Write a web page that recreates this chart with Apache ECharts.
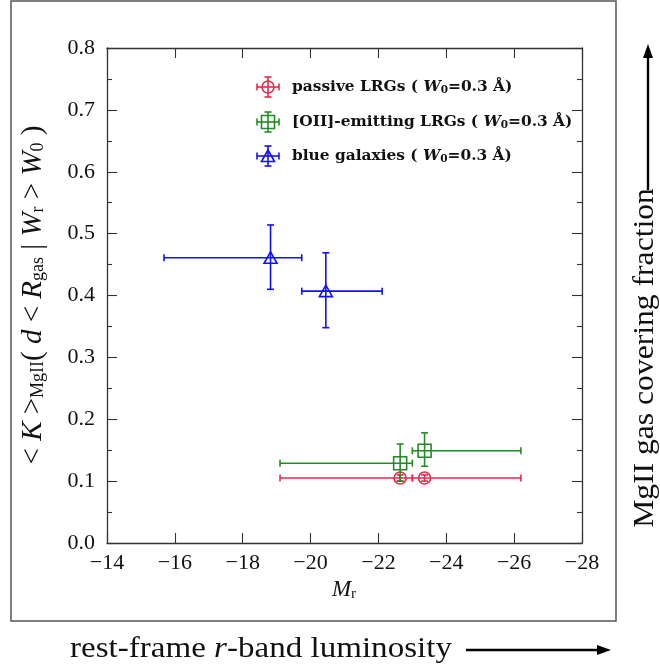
<!DOCTYPE html>
<html>
<head>
<meta charset="utf-8">
<script src="https://cdn.jsdelivr.net/npm/echarts@6/dist/echarts.min.js"></script>
<style>
  html, body { margin: 0; padding: 0; background: #fff; }
  #chart { width: 660px; height: 669px; }
</style>
</head>
<body>
<div id="chart"></div>
<script>
// Absolute r-band magnitude (x) and MgII covering fraction (y) per galaxy sample.
// Each point has a magnitude bin (faint edge / bright edge) and a y uncertainty range.
const passiveX      = [-22.64, -23.36];
const passiveY      = [0.105, 0.105];
const passiveXFaint = [-19.1, -23.0];
const passiveXBright= [-23.0, -26.2];
const passiveYLow   = [0.100, 0.100];
const passiveYHigh  = [0.110, 0.110];

const oiiX      = [-22.64, -23.36];
const oiiY      = [0.129, 0.149];
const oiiXFaint = [-19.1, -23.0];
const oiiXBright= [-23.0, -26.2];
const oiiYLow   = [0.100, 0.124];
const oiiYHigh  = [0.160, 0.178];

const blueX      = [-18.82, -20.45];
const blueY      = [0.461, 0.407];
const blueXFaint = [-15.68, -19.74];
const blueXBright= [-19.74, -22.11];
const blueYLow   = [0.410, 0.348];
const blueYHigh  = [0.514, 0.469];

const xTicks = [-14, -16, -18, -20, -22, -24, -26, -28];
const yTicks = [0.0, 0.1, 0.2, 0.3, 0.4, 0.5, 0.6, 0.7, 0.8];

const RED = '#e52a4d', GREEN = '#248a24', BLUE = '#1010ff';
const SERIF = '"Liberation Serif", "DejaVu Serif", serif';
const LEGEND_FONT = '"DejaVu Serif", "Liberation Serif", serif';

function markerShape(kind, cx, cy, color) {
  const style = { stroke: color, fill: null, lineWidth: 1.6 };
  if (kind === 'circle') {
    return { type: 'circle', shape: { cx, cy, r: 6 }, style };
  }
  if (kind === 'square') {
    return { type: 'rect', shape: { x: cx - 6.5, y: cy - 6.5, width: 13, height: 13 }, style };
  }
  return { type: 'polygon', shape: { points: [[cx - 6.5, cy + 5.5], [cx + 6.5, cy + 5.5], [cx, cy - 6]] }, style };
}

function errorBarChildren(c, l, r, lo, hi, color, kind) {
  const cap = 3.5;
  const ls = { stroke: color, lineWidth: 1.6 };
  const seg = (x1, y1, x2, y2) => ({ type: 'line', shape: { x1, y1, x2, y2 }, style: ls });
  return [
    seg(l[0], c[1], r[0], c[1]),
    seg(l[0], c[1] - cap, l[0], c[1] + cap),
    seg(r[0], c[1] - cap, r[0], c[1] + cap),
    seg(c[0], lo[1], c[0], hi[1]),
    seg(c[0] - cap, lo[1], c[0] + cap, lo[1]),
    seg(c[0] - cap, hi[1], c[0] + cap, hi[1]),
    markerShape(kind, c[0], c[1], color)
  ];
}

function errorSeries(name, color, kind, xs, ys, xf, xb, yl, yh, z) {
  const data = xs.map((x, i) => [x, ys[i], xf[i], xb[i], yl[i], yh[i]]);
  return {
    type: 'custom',
    name,
    data,
    z,
    xAxisIndex: 0,
    yAxisIndex: 0,
    encode: { x: [0, 2, 3], y: [1, 4, 5] },
    renderItem(params, api) {
      const x = api.value(0), y = api.value(1);
      const c = api.coord([x, y]);
      const l = api.coord([api.value(2), y]);
      const r = api.coord([api.value(3), y]);
      const lo = api.coord([x, api.value(4)]);
      const hi = api.coord([x, api.value(5)]);
      return { type: 'group', children: errorBarChildren(c, l, r, lo, hi, color, kind) };
    }
  };
}

function legendEntry(y, color, kind, label) {
  const cx = 268;
  const children = errorBarChildren([cx, y], [cx - 11, y], [cx + 11, y], [cx, y + 10], [cx, y - 10], color, kind);
  children.push({
    type: 'text',
    x: 292, y,
    style: {
      text: label + ' ( {w|W}{s|0}=0.3 Å)',
      font: 'bold 15.4px ' + LEGEND_FONT,
      fill: '#111',
      verticalAlign: 'middle',
      rich: {
        w: { fontFamily: LEGEND_FONT, fontWeight: 'bold', fontStyle: 'italic', fontSize: 15.4, fill: '#111' },
        s: { fontFamily: LEGEND_FONT, fontWeight: 'bold', fontSize: 10.5, fill: '#111', padding: [7, 0, 0, 0] }
      }
    }
  });
  return { type: 'group', children };
}

const axisLineStyle = { color: '#333', width: 1.3 };
const tickStyle = { color: '#333', width: 1.1 };

function xAxisDef(pos, labels) {
  return {
    type: 'value', position: pos, min: xTicks[xTicks.length - 1], max: xTicks[0], interval: 2, inverse: true,
    axisLine: { show: true, onZero: false, lineStyle: axisLineStyle },
    axisTick: { show: true, inside: true, length: 10, lineStyle: tickStyle },
    axisLabel: {
      show: labels, margin: 9, color: '#111', fontFamily: SERIF, fontSize: 22,
      formatter: v => (v < 0 ? '\u2212' : '') + Math.abs(v)
    },
    splitLine: { show: false }
  };
}

function yAxisDef(pos, labels) {
  return {
    type: 'value', position: pos, min: yTicks[0], max: yTicks[yTicks.length - 1], interval: 0.1,
    axisLine: { show: true, onZero: false, lineStyle: axisLineStyle },
    axisTick: { show: true, inside: true, length: 10, lineStyle: tickStyle },
    minorTick: { show: true, splitNumber: 2, length: 5, lineStyle: tickStyle },
    axisLabel: { show: labels, margin: 12, color: '#111', fontFamily: SERIF, fontSize: 22, formatter: v => v.toFixed(1) },
    splitLine: { show: false }
  };
}

const chart = echarts.init(document.getElementById('chart'), null, { renderer: 'canvas' });

chart.setOption({
  animation: false,
  backgroundColor: '#fff',
  grid: { left: 107, top: 48, right: 78, bottom: 126, containLabel: false },
  xAxis: [xAxisDef('bottom', true), xAxisDef('top', false)],
  yAxis: [yAxisDef('left', true), yAxisDef('right', false)],
  series: [
    errorSeries('passive LRGs', RED, 'circle', passiveX, passiveY, passiveXFaint, passiveXBright, passiveYLow, passiveYHigh, 3),
    errorSeries('[OII]-emitting LRGs', GREEN, 'square', oiiX, oiiY, oiiXFaint, oiiXBright, oiiYLow, oiiYHigh, 4),
    errorSeries('blue galaxies', BLUE, 'triangle', blueX, blueY, blueXFaint, blueXBright, blueYLow, blueYHigh, 5)
  ],
  graphic: [
    // frame around the plot panel
    { type: 'rect', shape: { x: 11, y: 1, width: 605, height: 620 }, style: { stroke: '#555', fill: null, lineWidth: 1.5 }, z: -1 },
    legendEntry(87, RED, 'circle', 'passive LRGs'),
    legendEntry(122, GREEN, 'square', '[OII]-emitting LRGs'),
    legendEntry(156, BLUE, 'triangle', 'blue galaxies'),
    // x axis title
    {
      type: 'text', x: 344, y: 590,
      style: {
        text: '{m|M}{s|r}', align: 'center', verticalAlign: 'middle',
        rich: {
          m: { fontFamily: SERIF, fontStyle: 'italic', fontSize: 23, fill: '#111' },
          s: { fontFamily: SERIF, fontSize: 15, fill: '#111', padding: [9, 0, 0, 0] }
        }
      }
    },
    // y axis title
    {
      type: 'text', x: 33, y: 295, rotation: Math.PI / 2,
      style: {
        text: '< {i|K} >{s|MgII}( {i|d} < {i|R}{s|gas} | {i|W}{s|r} > {i|W}{s|0} )',
        font: '29px ' + SERIF, fill: '#111', align: 'center', verticalAlign: 'middle',
        rich: {
          i: { fontFamily: SERIF, fontStyle: 'italic', fontSize: 29, fill: '#111' },
          s: { fontFamily: SERIF, fontSize: 18, fill: '#111', padding: [11, 0, 0, 0] }
        }
      }
    },
    // bottom annotation with arrow
    {
      type: 'text', x: 70, y: 649, scaleX: 1.14,
      style: {
        text: 'rest-frame {i|r}-band luminosity', font: '29px ' + SERIF, fill: '#111', verticalAlign: 'middle',
        rich: { i: { fontFamily: SERIF, fontStyle: 'italic', fontSize: 29, fill: '#111' } }
      }
    },
    { type: 'line', shape: { x1: 466, y1: 650, x2: 600, y2: 650 }, style: { stroke: '#000', lineWidth: 2.4 } },
    { type: 'polygon', shape: { points: [[597, 645], [611, 650], [597, 655]] }, style: { fill: '#000' } },
    // right annotation with arrow
    {
      type: 'text', x: 645, y: 358, rotation: Math.PI / 2, scaleX: 1.09,
      style: { text: 'MgII gas covering fraction', font: '29px ' + SERIF, fill: '#111', align: 'center', verticalAlign: 'middle' }
    },
    { type: 'line', shape: { x1: 648, y1: 190, x2: 648, y2: 55 }, style: { stroke: '#000', lineWidth: 2.4 } },
    { type: 'polygon', shape: { points: [[643, 58], [648, 44], [653, 58]] }, style: { fill: '#000' } }
  ]
});
</script>
</body>
</html>
